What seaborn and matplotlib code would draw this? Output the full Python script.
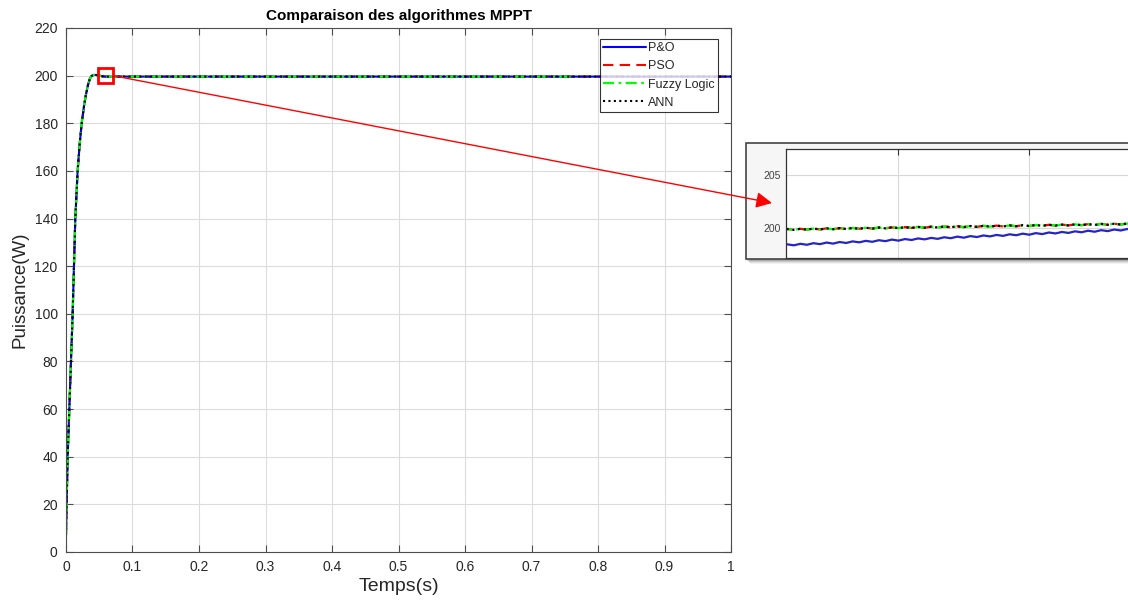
import numpy as np
import pandas as pd
import matplotlib
matplotlib.use("Agg")
import matplotlib.pyplot as plt
from matplotlib.patches import Rectangle, ConnectionPatch
import seaborn as sns

# ---------------- data ----------------
t_main = [0.0, 0.001, 0.0025, 0.005, 0.0075, 0.010, 0.012, 0.014, 0.0175, 0.0205,
          0.0236, 0.027, 0.030, 0.033, 0.036, 0.0386, 0.042, 0.045, 0.050, 0.055,
          0.060, 0.1, 0.2, 0.3, 0.4, 0.5, 0.6, 0.7, 0.76, 0.8, 0.9, 1.0]
p_po = [7, 20.5, 40, 60, 80, 100, 120, 140, 160, 171,
        180, 187, 192, 196, 198.8, 199.9, 200.3, 200.3, 200.0, 199.7,
        199.6, 199.6, 199.6, 199.6, 199.6, 199.6, 199.6, 199.6, 199.6, 199.6, 199.6, 199.6]
p_pso = list(p_po)
p_fuzzy = p_po[:29]          # Fuzzy Logic trace stops near t = 0.76
t_fuzzy = t_main[:29]
p_ann = list(p_po)

series_names = ["P&O", "PSO", "Fuzzy Logic", "ANN"]

# zoomed panel (inset) samples
t_zoom = np.linspace(0.051, 0.081, 61)
zoom_po = [198.34, 198.49, 198.40, 198.54, 198.45, 198.60, 198.51, 198.66, 198.56, 198.71,
           198.62, 198.77, 198.68, 198.82, 198.73, 198.88, 198.79, 198.94, 198.84, 198.99,
           198.90, 199.05, 198.96, 199.10, 199.01, 199.16, 199.07, 199.22, 199.12, 199.27,
           199.18, 199.33, 199.24, 199.38, 199.29, 199.44, 199.35, 199.50, 199.40, 199.55,
           199.46, 199.61, 199.52, 199.66, 199.57, 199.72, 199.63, 199.78, 199.68, 199.83,
           199.74, 199.89, 199.80, 199.94, 199.85, 200.00, 199.91, 200.06, 199.96, 200.11, 200.02]
zoom_fuzzy = [199.84, 199.94, 199.86, 199.96, 199.88, 199.98, 199.90, 200.00, 199.92, 200.02,
              199.94, 200.04, 199.96, 200.06, 199.98, 200.08, 200.00, 200.10, 200.02, 200.12,
              200.04, 200.14, 200.06, 200.16, 200.08, 200.18, 200.10, 200.20, 200.12, 200.22,
              200.14, 200.24, 200.16, 200.26, 200.18, 200.28, 200.20, 200.30, 200.22, 200.32,
              200.24, 200.34, 200.26, 200.36, 200.28, 200.38, 200.30, 200.40, 200.32, 200.42,
              200.34, 200.44, 200.36, 200.46, 200.38, 200.48, 200.40, 200.50, 200.42, 200.52, 200.44]
zoom_pso = list(zoom_fuzzy)
zoom_ann = list(zoom_fuzzy)

x_ticks = [0, 0.1, 0.2, 0.3, 0.4, 0.5, 0.6, 0.7, 0.8, 0.9, 1]
x_ticklabels = ["0", "0.1", "0.2", "0.3", "0.4", "0.5", "0.6", "0.7", "0.8", "0.9", "1"]
y_ticks = list(range(0, 221, 20))

# ---------------- styling ----------------
sns.set_theme(style="white")
plt.rcParams['font.family'] = ['Liberation Sans', 'DejaVu Sans']
plt.rcParams['axes.edgecolor'] = '#4d4d4d'
plt.rcParams['text.color'] = '#262626'

colors = {"P&O": "#0000ff", "PSO": "#ff0000", "Fuzzy Logic": "#00ff00", "ANN": "#000000"}
styles = {"P&O": "-", "PSO": (0, (5, 3)), "Fuzzy Logic": (0, (5, 2, 1.2, 2)), "ANN": (0, (1, 1.6))}
zorders = {"P&O": 2.2, "PSO": 2.1, "Fuzzy Logic": 2.3, "ANN": 2.4}

fig = plt.figure(figsize=(11.28, 6.02), dpi=100)
ax = fig.add_axes([0.0585, 0.0831, 0.5896, 0.8704])

data_main = {
    "P&O": (t_main, p_po),
    "PSO": (t_main, p_pso),
    "Fuzzy Logic": (t_fuzzy, p_fuzzy),
    "ANN": (t_main, p_ann),
}
for name in series_names:
    tx, py = data_main[name]
    sns.lineplot(x=tx, y=py, ax=ax, color=colors[name], linestyle=styles[name],
                 linewidth=1.6 if name == "Fuzzy Logic" else 1.5, label=name,
                 estimator=None, sort=False, zorder=zorders[name])

ax.set_xlim(0, 1)
ax.set_ylim(0, 220)
ax.set_xticks(x_ticks)
ax.set_xticklabels(x_ticklabels)
ax.set_yticks(y_ticks)
ax.grid(True, color='#dcdcdc', linewidth=0.8)
ax.tick_params(direction='in', length=5, width=0.8, colors='#4d4d4d', labelcolor='#262626',
               labelsize=10, top=True, right=True, bottom=True, left=True, pad=6)
for s in ax.spines.values():
    s.set_linewidth(0.8)
    s.set_color('#4d4d4d')
ax.set_xlabel("Temps(s)", fontsize=14, color='#262626', labelpad=3)
ax.set_ylabel("Puissance(W)", fontsize=13.5, color='#262626', labelpad=4)
ax.set_title("Comparaison des algorithmes MPPT", fontsize=11, fontweight='bold',
             color='#000000', pad=6)

leg = ax.legend(loc='upper right', bbox_to_anchor=(0.9805, 0.979), borderaxespad=0,
                fontsize=9, frameon=True, fancybox=False, edgecolor='#000000',
                handlelength=3.4, handletextpad=0.2, labelspacing=0.5, borderpad=0.25)
leg.get_frame().set_linewidth(0.8)
leg.set_zorder(10)

# red zoom box
ax.add_patch(Rectangle((0.048, 197.0), 0.0227, 6.2, fill=False, edgecolor='red',
                       linewidth=2, zorder=6))

# ---------------- zoom panel ----------------
px = lambda v: v / 1128.0
py_ = lambda v: 1 - v / 602.0
panel_l, panel_r, panel_t, panel_b = 746, 1150, 143, 259
for i, a in enumerate([0.05, 0.07, 0.10, 0.14]):
    off = 5 - i
    fig.add_artist(Rectangle((px(panel_l + off - 1), py_(panel_b + off)),
                             px(panel_r - panel_l), (panel_b - panel_t) / 602.0,
                             transform=fig.transFigure, facecolor='black', alpha=a,
                             edgecolor='none', zorder=1))
fig.add_artist(Rectangle((px(panel_l), py_(panel_b)), px(panel_r - panel_l),
                         (panel_b - panel_t) / 602.0, transform=fig.transFigure,
                         facecolor='#f6f6f6', edgecolor='#444444', linewidth=1.2, zorder=2))

axz = fig.add_axes([px(786), py_(258), px(1160 - 786), (258 - 149) / 602.0], zorder=3)
zoom_data = {"P&O": zoom_po, "PSO": zoom_pso, "Fuzzy Logic": zoom_fuzzy, "ANN": zoom_ann}
for name in series_names:
    sns.lineplot(x=t_zoom, y=zoom_data[name], ax=axz,
                 color=colors[name] if name != "P&O" else "#2424c8",
                 linestyle=styles[name], linewidth=1.6, estimator=None, sort=False,
                 legend=False, zorder=zorders[name])
axz.set_xlim(0.0514, 0.0800)
axz.set_ylim(197.2, 207.5)
axz.set_xticks([0.06, 0.07])
axz.set_yticks([200, 205])
axz.set_yticklabels(["200", "205"])
axz.set_xticklabels([])
axz.grid(True, color='#d8d8d8', linewidth=0.8)
axz.tick_params(direction='in', length=4, width=0.8, colors='#333333', labelcolor='#404040',
                labelsize=7.5, top=True, right=True, pad=4)
for s in axz.spines.values():
    s.set_linewidth(0.9)
    s.set_color('#333333')
axz.set_facecolor('white')

# arrow from the red box to the zoom panel
con = ConnectionPatch(xyA=(0.0707, 200.0), coordsA=ax.transData,
                      xyB=(px(772), py_(203)), coordsB=fig.transFigure,
                      arrowstyle='-|>', mutation_scale=24, color='red', linewidth=1.0,
                      zorder=10)
fig.add_artist(con)

fig.savefig("out.png", dpi=100)
